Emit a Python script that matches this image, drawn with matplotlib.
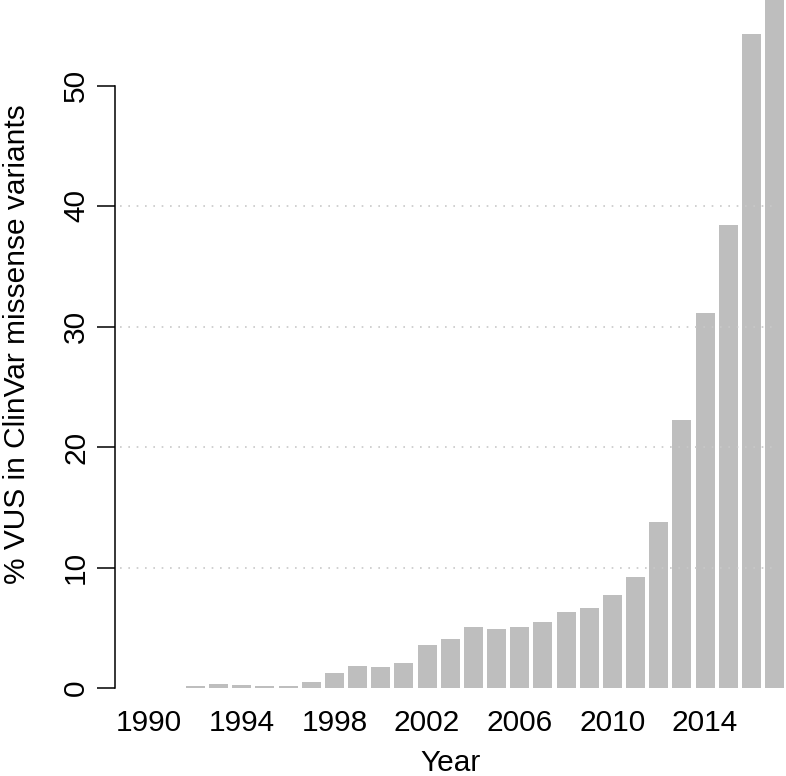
import numpy as np
import matplotlib.pyplot as plt

plt.rcParams['font.family'] = ['Liberation Sans', 'DejaVu Sans']

# % VUS among ClinVar missense variants, by year
years = list(range(1990, 2018))
vus_pct = [0.0, 0.0, 0.15, 0.3, 0.25, 0.2, 0.2, 0.5, 1.25, 1.85, 1.75, 2.07,
           3.57, 4.07, 5.06, 4.9, 5.06, 5.45, 6.28, 6.66, 7.69, 9.2, 13.8,
           22.2, 31.15, 38.4, 54.3, 60.0]
tick_years = [1990, 1994, 1998, 2002, 2006, 2010, 2014]
y_ticks = [0, 10, 20, 30, 40, 50]
grid_levels = [10, 20, 30, 40]

W, H = 786, 776
fs = 21.5
fig = plt.figure(figsize=(W / 100, H / 100), dpi=100)
# axes: left spine at x=115 px, zero line at y=688 px, reaching figure top
ax = fig.add_axes([115 / W, (H - 688) / H, (W - 115) / W, 688 / H])

ax.bar(years, vus_pct, width=0.82, color='#bebebe', zorder=1, clip_on=False)

for g in grid_levels:
    ax.axhline(g, xmin=0.008, xmax=0.98, color='#c8c8c8', lw=1.2,
               linestyle=(0, (1, 4)), zorder=2)

px_per_year = 23.17
ax.set_xlim(1990 - 34 / px_per_year, 1990 + (W - 149) / px_per_year)
ax.set_ylim(0, 688 / 12.05)

for side in ['top', 'right', 'bottom']:
    ax.spines[side].set_visible(False)
ax.spines['left'].set_bounds(0, 50)
ax.spines['left'].set_linewidth(1.1)

ax.set_xticks(tick_years)
ax.set_xticklabels([str(t) for t in tick_years])
ax.tick_params(axis='x', length=0, pad=15, labelsize=fs)

ax.set_yticks(y_ticks)
ax.set_yticklabels([str(t) for t in y_ticks], rotation=90, va='center')
ax.tick_params(axis='y', length=13, width=1.1, pad=5, labelsize=fs)

ax.set_xlabel('Year', fontsize=fs, labelpad=9)
ax.set_ylabel('% VUS in ClinVar missense variants', fontsize=fs, labelpad=22)

fig.savefig('out.png', dpi=100)
